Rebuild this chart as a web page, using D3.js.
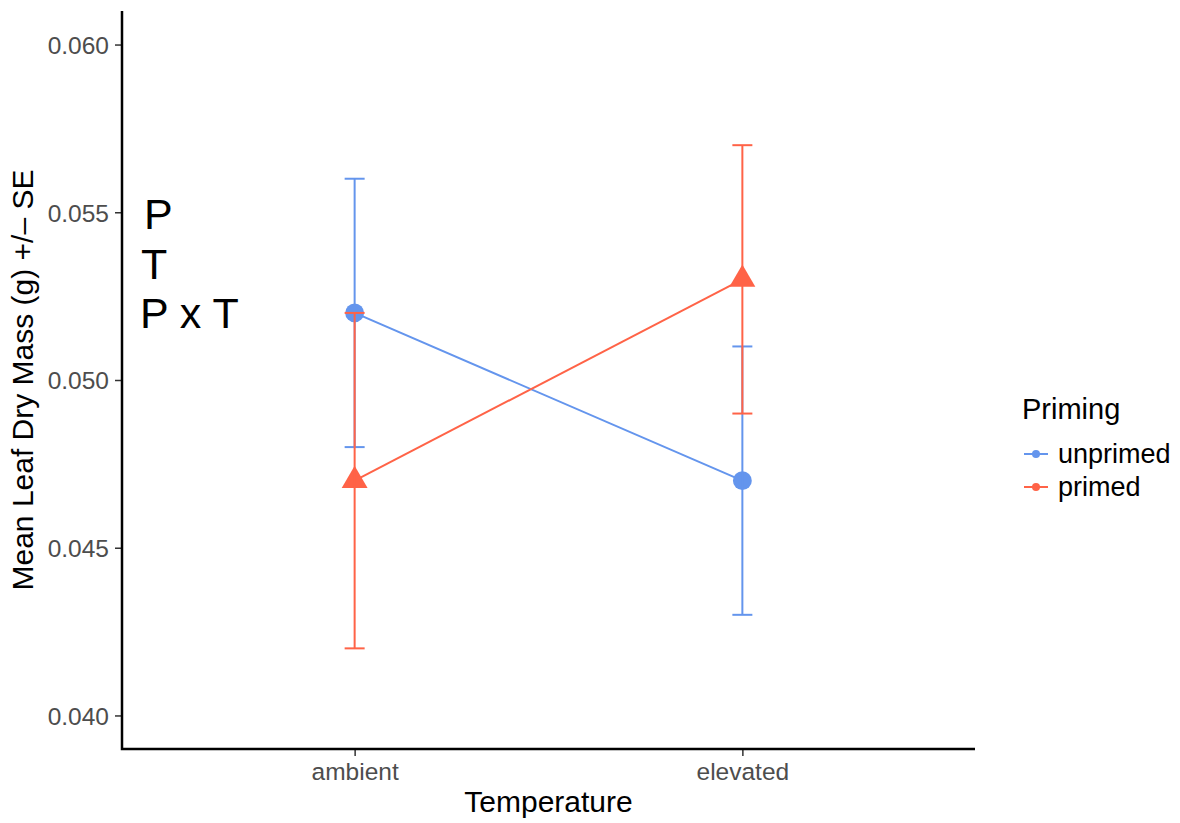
<!DOCTYPE html>
<html lang="en">
<head>
    <meta charset="utf-8">
    <title>Mean Leaf Dry Mass by Temperature and Priming</title>
    <style>
        body { margin: 0; background: white; }
        text { font-family: "Liberation Sans", Arial, Helvetica, sans-serif; }
        .tick-label { fill: #4d4d4d; font-size: 24.5px; }
        .axis-title { fill: black; font-size: 30px; }
        .annot { fill: black; font-size: 43px; }
        .legend-title { fill: black; font-size: 29px; }
        .legend-text { fill: black; font-size: 27px; }
    </style>
</head>
<body>
<svg width="1180" height="823"></svg>
<script src="https://d3js.org/d3.v7.min.js"></script>
<script>
    // data
    const temperatures = ['ambient', 'elevated'];
    const primingGroups = ['unprimed', 'primed'];
    const unprimedMean = [0.052, 0.047];
    const unprimedLow = [0.048, 0.043];
    const unprimedHigh = [0.056, 0.051];
    const primedMean = [0.047, 0.053];
    const primedLow = [0.042, 0.049];
    const primedHigh = [0.052, 0.057];
    const yTicks = [0.040, 0.045, 0.050, 0.055, 0.060];
    const annotations = ['P', 'T', 'P x T'];

    var svg = d3.select('svg');

    var plot = { left: 122, right: 975, top: 11, bottom: 749 };

    var x = d3.scalePoint()
        .domain(temperatures)
        .range([plot.left, plot.right])
        .padding(0.6);

    var y = d3.scaleLinear()
        .domain([0.039, 0.061])
        .range([plot.bottom, plot.top]);

    var color = d3.scaleOrdinal()
        .domain(primingGroups)
        .range(['#6495ED', '#FF6347']);

    var shape = d3.scaleOrdinal()
        .domain(primingGroups)
        .range([d3.symbolCircle, d3.symbolTriangle]);

    var series = [
        { name: 'unprimed', mean: unprimedMean, low: unprimedLow, high: unprimedHigh },
        { name: 'primed', mean: primedMean, low: primedLow, high: primedHigh }
    ].map(s => ({
        name: s.name,
        values: temperatures.map((t, i) => ({ t: t, mean: s.mean[i], low: s.low[i], high: s.high[i] }))
    }));

    // axes
    var yAxis = svg.append('g')
        .attr('transform', `translate(${plot.left},0)`)
        .call(d3.axisLeft(y).tickValues(yTicks).tickFormat(d3.format('.3f')).tickSize(7).tickPadding(6));
    yAxis.select('.domain').remove();
    yAxis.selectAll('.tick line').attr('stroke', '#333').attr('stroke-width', 1.5);
    yAxis.selectAll('.tick text').attr('class', 'tick-label').attr('dy', '0.36em');

    var xAxis = svg.append('g')
        .attr('transform', `translate(0,${plot.bottom})`)
        .call(d3.axisBottom(x).tickSize(7).tickPadding(7));
    xAxis.select('.domain').remove();
    xAxis.selectAll('.tick line').attr('stroke', '#333').attr('stroke-width', 1.5);
    xAxis.selectAll('.tick text').attr('class', 'tick-label');

    svg.append('path')
        .attr('d', `M${plot.left},${plot.top}V${plot.bottom}H${plot.right}`)
        .attr('fill', 'none')
        .attr('stroke', 'black')
        .attr('stroke-width', 2.5);

    svg.append('text')
        .attr('class', 'axis-title')
        .attr('x', (plot.left + plot.right) / 2)
        .attr('y', 812)
        .attr('text-anchor', 'middle')
        .text('Temperature');

    svg.append('text')
        .attr('class', 'axis-title')
        .attr('transform', `translate(33,${(plot.top + plot.bottom) / 2}) rotate(-90)`)
        .attr('text-anchor', 'middle')
        .text('Mean Leaf Dry Mass (g) +/\u2013 SE');

    // significance labels
    svg.append('g').selectAll('text')
        .data(annotations)
        .enter().append('text')
        .attr('class', 'annot')
        .attr('x', (d, i) => [144, 141, 140][i])
        .attr('y', (d, i) => 229 + i * 49.5)
        .text(d => d);

    // lines
    var line = d3.line().x(d => x(d.t)).y(d => y(d.mean));
    svg.append('g').selectAll('path')
        .data(series)
        .enter().append('path')
        .attr('d', d => line(d.values))
        .attr('fill', 'none')
        .attr('stroke', d => color(d.name))
        .attr('stroke-width', 2);

    // points
    svg.append('g').selectAll('path')
        .data(series.flatMap(s => s.values.map(v => Object.assign({ name: s.name }, v))))
        .enter().append('path')
        .attr('transform', d => `translate(${x(d.t)},${y(d.mean)})`)
        .attr('d', d => d3.symbol().type(shape(d.name)).size(d.name === 'primed' ? 290 : 280)())
        .attr('fill', d => color(d.name));

    // error bars
    var bars = svg.append('g').selectAll('g')
        .data(series.flatMap(s => s.values.map(v => Object.assign({ name: s.name }, v))))
        .enter().append('g')
        .attr('stroke', d => color(d.name))
        .attr('stroke-width', 2);
    bars.append('line')
        .attr('x1', d => x(d.t)).attr('x2', d => x(d.t))
        .attr('y1', d => y(d.low)).attr('y2', d => y(d.high));
    bars.append('line')
        .attr('x1', d => x(d.t) - 10).attr('x2', d => x(d.t) + 10)
        .attr('y1', d => y(d.low)).attr('y2', d => y(d.low));
    bars.append('line')
        .attr('x1', d => x(d.t) - 10).attr('x2', d => x(d.t) + 10)
        .attr('y1', d => y(d.high)).attr('y2', d => y(d.high));

    // legend
    var legend = svg.append('g').attr('transform', 'translate(1022,0)');
    legend.append('text')
        .attr('class', 'legend-title')
        .attr('x', 0)
        .attr('y', 419)
        .text('Priming');
    var items = legend.selectAll('g.item')
        .data(primingGroups)
        .enter().append('g')
        .attr('class', 'item')
        .attr('transform', (d, i) => `translate(0,${454 + i * 33})`);
    items.append('line')
        .attr('x1', 2).attr('x2', 26)
        .attr('stroke', d => color(d))
        .attr('stroke-width', 2);
    items.append('circle')
        .attr('cx', 14).attr('r', 4)
        .attr('fill', d => color(d));
    items.append('text')
        .attr('class', 'legend-text')
        .attr('x', 36)
        .attr('dy', '0.35em')
        .text(d => d);
</script>
</body>
</html>
